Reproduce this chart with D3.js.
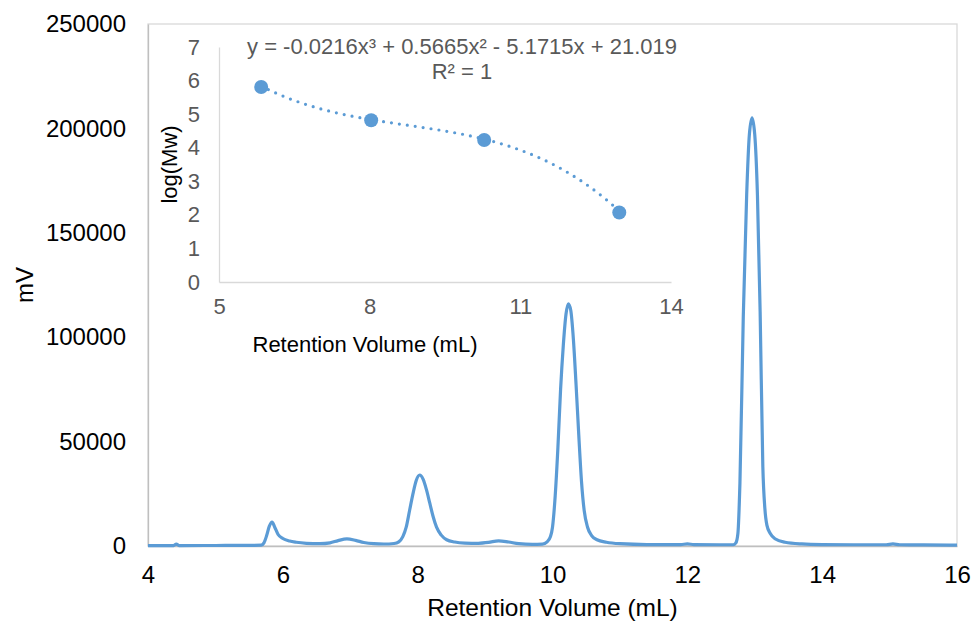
<!DOCTYPE html>
<html>
<head>
<meta charset="utf-8">
<script src="https://cdn.jsdelivr.net/npm/d3@7"></script>
<style>
  body { margin: 0; background: #fff; }
  text { font-family: "Liberation Sans", Arial, sans-serif; }
</style>
</head>
<body>
<script>
// Chromatogram (main chart)
const retentionVolume = [
  4.0, 4.38, 4.42, 4.46, 5.0, 5.5, 5.68, 5.72, 5.76, 5.80, 5.84, 5.88, 5.93, 6.0, 6.1, 6.2, 6.35, 6.55,
  6.7, 6.82, 6.95, 7.08, 7.2, 7.35, 7.5, 7.65, 7.72, 7.78, 7.83, 7.88, 7.93, 7.98, 8.03, 8.08, 8.13,
  8.18, 8.23, 8.28, 8.35, 8.43, 8.55, 8.7, 8.9, 9.05, 9.2, 9.35, 9.5, 9.7, 9.85, 9.92, 9.97, 10.0,
  10.04, 10.08, 10.12, 10.16, 10.2, 10.235, 10.27, 10.31, 10.35, 10.39, 10.43, 10.47, 10.52, 10.58,
  10.66, 10.8, 11.0, 11.4, 11.9, 12.0, 12.1, 12.5, 12.68, 12.72, 12.75, 12.78, 12.83, 12.88, 12.92,
  12.96, 13.0, 13.04, 13.08, 13.12, 13.15, 13.18, 13.23, 13.3, 13.45, 13.7, 14.0, 14.5, 14.95, 15.05,
  15.15, 15.5, 16.0
];
const signal = [
  200, 200, 900, 200, 250, 300, 400, 1500, 5000, 9500, 11500, 9000, 5500, 3600, 2400, 1800, 1300, 1100,
  1500, 2600, 3400, 2700, 1700, 1100, 950, 1200, 2000, 4500, 9000, 17000, 25000, 31500, 34000, 32000, 27000,
  20500, 14000, 9000, 5200, 3000, 1900, 1400, 1300, 1700, 2500, 1900, 1100, 800, 900, 2000, 4500, 9000,
  24000, 47000, 75000, 96000, 111000, 116000, 113000, 99000, 77000, 53000, 31000, 17000, 9000, 5000,
  3000, 1800, 1100, 700, 700, 1000, 700, 600, 600, 1500, 6000, 30000, 110000, 168000, 197000,
  205000, 197000, 168000, 112000, 38000, 18000, 10000, 6000, 3500, 1800, 1000, 700, 600, 600, 1000,
  600, 500, 400
];
const xTicks = [4, 6, 8, 10, 12, 14, 16];
const yTicks = [0, 50000, 100000, 150000, 200000, 250000];

// Calibration (inset)
const calVolume = [5.84, 8.03, 10.28, 12.97];
const calLogMw = [5.81, 4.82, 4.23, 2.07];
const trendCoef = [-0.0216, 0.5665, -5.1715, 21.019]; // x^3, x^2, x, 1
const insetXTicks = [5, 8, 11, 14];
const insetYTicks = [0, 1, 2, 3, 4, 5, 6, 7];

const width = 973;
const height = 624;
const marginTop = 24;
const marginRight = 16;
const marginBottom = 78;
const marginLeft = 148;
const blue = "#5b9bd5";

const x = d3.scaleLinear()
    .domain([4, 16])
    .range([marginLeft, width - marginRight]);

const y = d3.scaleLinear()
    .domain([0, 250000])
    .range([height - marginBottom, marginTop]);

const svg = d3.create("svg")
    .attr("width", width)
    .attr("height", height);

// plot area border
svg.append("rect")
    .attr("x", marginLeft)
    .attr("y", marginTop)
    .attr("width", width - marginLeft - marginRight)
    .attr("height", height - marginTop - marginBottom)
    .attr("fill", "none")
    .attr("stroke", "#d9d9d9")
    .attr("stroke-width", 1.3);

// x-axis
const gx = svg.append("g")
    .attr("transform", `translate(0,${height - marginBottom})`)
    .call(d3.axisBottom(x).tickValues(xTicks).tickSize(0).tickPadding(20));
gx.select(".domain").attr("stroke", "#bfbfbf").attr("stroke-width", 1.3);
gx.selectAll("text").attr("font-size", 24).attr("fill", "#000");

// y-axis
const gy = svg.append("g")
    .attr("transform", `translate(${marginLeft},0)`)
    .call(d3.axisLeft(y).tickValues(yTicks).tickFormat(d3.format("d")).tickSize(0).tickPadding(22));
gy.select(".domain").attr("stroke", "#bfbfbf").attr("stroke-width", 1.3);
gy.selectAll("text").attr("font-size", 24).attr("fill", "#000");

svg.append("text")
    .attr("x", (marginLeft + width - marginRight) / 2)
    .attr("y", 616)
    .attr("text-anchor", "middle")
    .attr("font-size", 24.5)
    .text("Retention Volume (mL)");

svg.append("text")
    .attr("transform", `translate(33,${(marginTop + height - marginBottom) / 2}) rotate(-90)`)
    .attr("text-anchor", "middle")
    .attr("font-size", 24)
    .text("mV");

// chromatogram line
const line = d3.line()
    .x((d, i) => x(retentionVolume[i]))
    .y(d => y(d))
    .curve(d3.curveMonotoneX);

svg.append("path")
    .datum(signal)
    .attr("fill", "none")
    .attr("stroke", blue)
    .attr("stroke-width", 3.2)
    .attr("stroke-linejoin", "round")
    .attr("d", line);

// ---- inset ----
const ix = d3.scaleLinear().domain([5, 14]).range([219, 671]);
const iy = d3.scaleLinear().domain([0, 7]).range([282, 47]);

const inset = svg.append("g");

const igx = inset.append("g")
    .attr("transform", `translate(0,${iy(0)})`)
    .call(d3.axisBottom(ix).tickValues(insetXTicks).tickSize(0).tickPadding(16));
igx.select(".domain").attr("stroke", "#d9d9d9").attr("stroke-width", 1.3);
igx.selectAll("text").attr("font-size", 22).attr("fill", "#595959");

const igy = inset.append("g")
    .attr("transform", `translate(${ix(5)},0)`)
    .call(d3.axisLeft(iy).tickValues(insetYTicks).tickFormat(d3.format("d")).tickSize(0).tickPadding(19));
igy.select(".domain").attr("stroke", "#d9d9d9").attr("stroke-width", 1.3);
igy.selectAll("text").attr("font-size", 22).attr("fill", "#595959");

inset.append("text")
    .attr("x", 365)
    .attr("y", 352)
    .attr("text-anchor", "middle")
    .attr("font-size", 22)
    .text("Retention Volume (mL)");

inset.append("text")
    .attr("transform", `translate(177,${(iy(0) + iy(7)) / 2}) rotate(-90)`)
    .attr("text-anchor", "middle")
    .attr("font-size", 22)
    .text("log(Mw)");

// trendline from the fitted polynomial, over the data range
const poly = v => trendCoef.reduce((acc, c) => acc * v + c, 0);
const trendX = d3.range(calVolume[0], calVolume[calVolume.length - 1] + 0.001, 0.05);

inset.append("path")
    .datum(trendX)
    .attr("fill", "none")
    .attr("stroke", blue)
    .attr("stroke-width", 3.2)
    .attr("stroke-linecap", "round")
    .attr("stroke-dasharray", "0 8")
    .attr("d", d3.line().x(d => ix(d)).y(d => iy(poly(d))));

inset.selectAll("circle")
    .data(calVolume)
    .join("circle")
    .attr("cx", d => ix(d))
    .attr("cy", (d, i) => iy(calLogMw[i]))
    .attr("r", 7)
    .attr("fill", blue);

inset.append("text")
    .attr("x", 462)
    .attr("y", 54)
    .attr("text-anchor", "middle")
    .attr("font-size", 22)
    .attr("fill", "#595959")
    .text("y = -0.0216x³ + 0.5665x² - 5.1715x + 21.019");

inset.append("text")
    .attr("x", 462)
    .attr("y", 79)
    .attr("text-anchor", "middle")
    .attr("font-size", 22)
    .attr("fill", "#595959")
    .text("R² = 1");

document.body.append(svg.node());
</script>
</body>
</html>
